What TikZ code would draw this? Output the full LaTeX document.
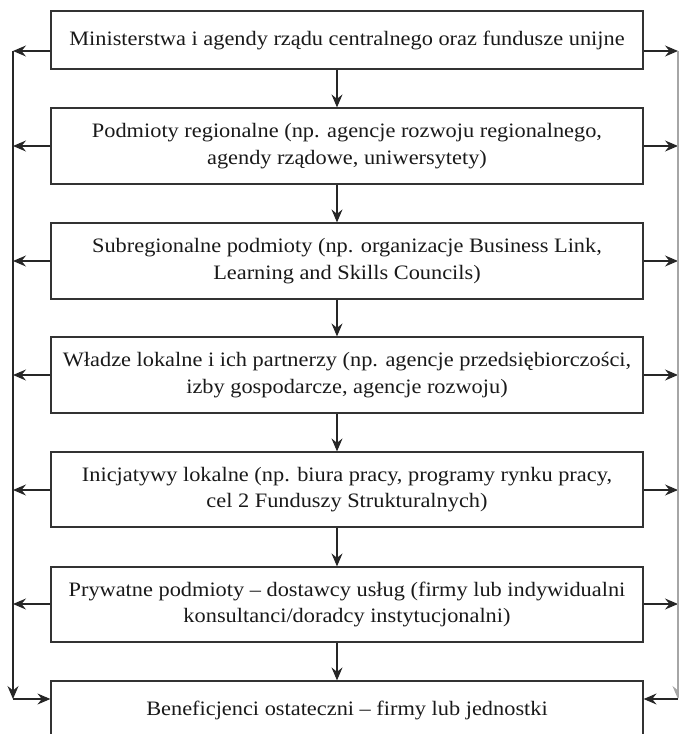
\documentclass[tikz,border=0pt]{standalone}
\usepackage{fontspec}
\setmainfont[FakeStretch=1.09]{Liberation Serif}
\usetikzlibrary{arrows.meta}
\begin{document}
\begin{tikzpicture}[x=1pt,y=-1pt,
  lbox/.style={draw=black!80, line width=1.2pt, minimum width=592pt, inner sep=0pt,
    align=center, font=\fontsize{20.5}{26.5}\selectfont, text=black!90},
  conn/.style={draw=black!85, line width=1.1pt, -{Stealth[length=13pt,width=11pt,inset=4.5pt]}}]
\useasboundingbox (0,0) rectangle (679,734);
\clip (0,0) rectangle (679,734);
\node[lbox, minimum height=58pt] (b1) at (347,40) {Ministerstwa i agendy rządu centralnego oraz fundusze unijne};
\node[lbox, minimum height=76pt] (b2) at (347,146) {Podmioty regionalne (np. agencje rozwoju regionalnego,\\ agendy rządowe, uniwersytety)};
\node[lbox, minimum height=76pt] (b3) at (347,261) {Subregionalne podmioty (np. organizacje Business Link,\\ Learning and Skills Councils)};
\node[lbox, minimum height=76pt] (b4) at (347,375) {Władze lokalne i ich partnerzy (np. agencje przedsiębiorczości,\\ izby gospodarcze, agencje rozwoju)};
\node[lbox, minimum height=75pt] (b5) at (347,489.5) {Inicjatywy lokalne (np. biura pracy, programy rynku pracy,\\ cel 2 Funduszy Strukturalnych)};
\node[lbox, minimum height=75pt] (b6) at (347,604.5) {Prywatne podmioty – dostawcy usług (firmy lub indywidualni\\ konsultanci/doradcy instytucjonalni)};
\node[lbox, minimum height=58pt] (b7) at (347,710) {Beneficjenci ostateczni – firmy lub jednostki};
% vertical flow
\coordinate (cx) at (337,0);
\foreach \a/\b in {b1/b2,b2/b3,b3/b4,b4/b5,b5/b6,b6/b7}
  \draw[conn] (\a.south -| cx) -- (\b.north -| cx);
% side coordinates
\foreach \i/\y in {1/51,2/146,3/261,4/375,5/490,6/604,7/699} {
  \coordinate (L\i) at (13,\y);
  \coordinate (R\i) at (678,\y);
}
\foreach \i in {1,...,6} {
  \draw[conn] (b\i.west |- L\i) -- (L\i);
  \draw[conn] (b\i.east |- R\i) -- (R\i);
}
\draw[conn] (L1) -- (L7);
\draw[conn] (L7) -- (b7.west |- L7);
\draw[conn, draw=black!35] (R1) -- (R7);
\draw[conn] (R7) -- (b7.east |- R7);
\end{tikzpicture}
\end{document}
